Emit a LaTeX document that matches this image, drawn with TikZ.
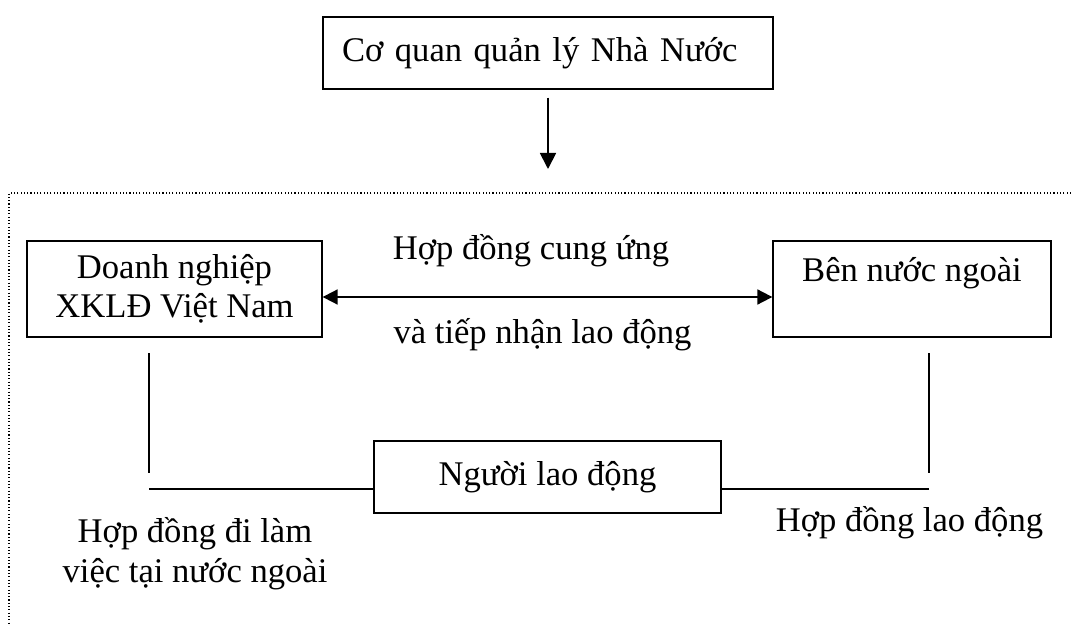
\documentclass[tikz,border=0pt]{standalone}
\usepackage{fontspec}
\setmainfont{Liberation Serif}
\usepackage{tikz}
\usetikzlibrary{arrows.meta,positioning}
\tikzset{
  >=Triangle,
  font=\fontsize{17.3pt}{19.8pt}\selectfont,
  box/.style={draw,line width=0.65pt,align=center,inner sep=0pt,minimum height=36pt},
  bigbox/.style={box,minimum height=48pt},
  link/.style={line width=0.65pt},
  flow/.style={-{Triangle[length=8pt,width=8pt]},line width=0.9pt},
  both/.style={{Triangle[length=7.5pt,width=7.5pt]}-{Triangle[length=7.5pt,width=7.5pt]},line width=0.9pt},
  frame/.style={line width=0.6pt,dash pattern=on 0.55pt off 1.1pt},
  lbl/.style={inner sep=0pt,align=center},
}

\begin{document}
\begin{tikzpicture}[x=0.5pt,y=-0.5pt]
  \useasboundingbox (0,0) rectangle (1071,626);
  % state agency on top
  \node[box,minimum width=225pt,text width=206pt,align=left,inner xsep=9.5pt] (gov) at (548,53) {Cơ quan quản lý Nhà Nước};
  \coordinate (gin) at (548,169);
  \draw[flow] ([yshift=-4pt]gov.south) -- (gin);
  \draw[frame] (1071,193) -- (9,193) -- (9,626);
  % the three parties
  \node[bigbox,minimum width=147.5pt] (firm) at (174.5,289) {Doanh nghiệp\\XKLĐ Việt Nam};
  \node[bigbox,minimum width=139pt] (foreign) at (912,289) {Bên nước ngoài\\\mbox{}};
  \node[box,minimum width=173.5pt] (worker) at (547.5,477) {Người lao động};
  \draw[both] ([yshift=-4pt]firm.east) -- ([yshift=-4pt]foreign.west);
  \node[lbl] (supply) at (531,251) {Hợp đồng cung ứng};
  \node[lbl] (receive) at (542.5,335) {và tiếp nhận lao động};
  % contracts with the worker
  \coordinate (lt) at (149,353);
  \coordinate (lb) at (149,473);
  \coordinate (lc) at (149,489);
  \coordinate (rt) at (929,353);
  \coordinate (rb) at (929,473);
  \coordinate (rc) at (929,489);
  \draw[link] (lt) -- (lb);
  \draw[link] (lc) -- (worker.west |- lc);
  \draw[link] (rt) -- (rb);
  \draw[link] (rc) -- (worker.east |- rc);
  \node[lbl] (abroad) at (195,554) {Hợp đồng đi làm\\việc tại nước ngoài};
  \node[lbl] (labour) at (909.5,523) {Hợp đồng lao động};
\end{tikzpicture}
\end{document}
